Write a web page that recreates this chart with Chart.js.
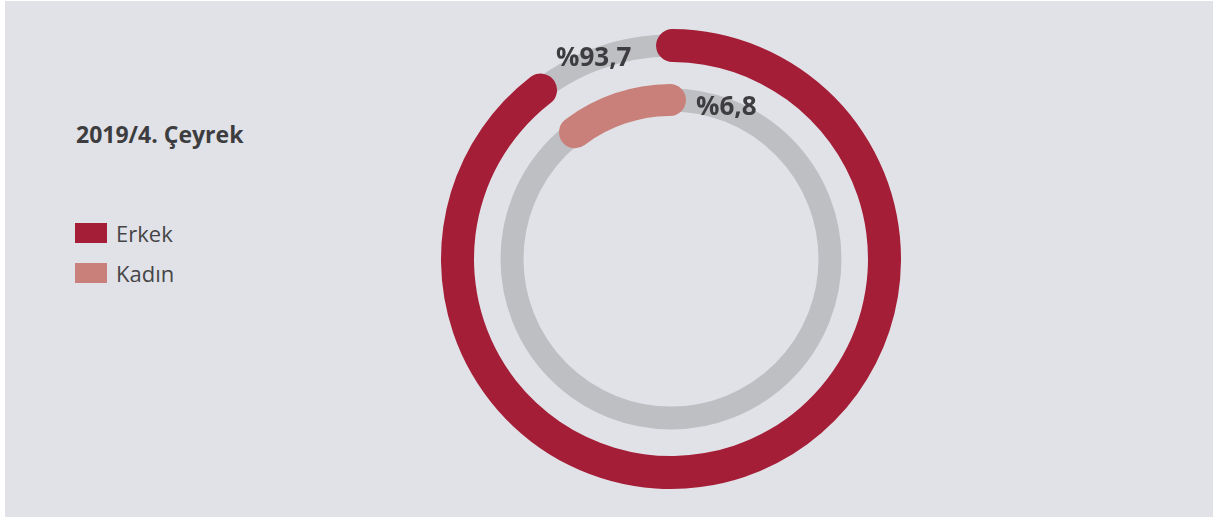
<!DOCTYPE html>
<html>
<head>
<meta charset="utf-8">
<script src="https://cdn.jsdelivr.net/npm/chart.js@4/dist/chart.umd.min.js"></script>
<style>
  html, body { margin: 0; padding: 0; background: #ffffff; }
  #stage { position: absolute; left: 5px; top: 1px; width: 1208px; height: 516px; background: #e1e2e7; }
  .txt { position: absolute; font-family: "Open Sans", sans-serif; line-height: 1; white-space: nowrap; color: #3d3d3f; }
  .title { font-weight: 700; font-size: 23px; }
  .lab { font-weight: 700; font-size: 26px; }
  .leg { font-size: 22px; color: #454547; }
  .box { position: absolute; width: 32px; height: 20px; }
  #wrap { position: absolute; width: 480px; height: 480px; }
</style>
</head>
<body>
<div id="stage"></div>
<div id="wrap"><canvas id="c" width="480" height="480"></canvas></div>
<script>
// ---- data ----
const categories = ["Erkek", "Kadın"];
const shares = [93.7, 6.8];                 // percent
const valueLabels = ["%93,7", "%6,8"];
const titleText = "2019/4. Çeyrek";
const colors = ["#a51e37", "#c9807a"];

// ---- layout (page coords) ----
const CX = 671, CY = 259;
const wrap = document.getElementById('wrap');
wrap.style.left = (CX - 240) + 'px';
wrap.style.top = (CY - 240) + 'px';

function addText(cls, text, left, top) {
  const d = document.createElement('div');
  d.className = 'txt ' + cls;
  d.textContent = text;
  d.style.left = left + 'px';
  d.style.top = top + 'px';
  document.body.appendChild(d);
  return d;
}
addText('title', titleText, 76, 123);
[[222, 223], [262, 263]].forEach((p, i) => {
  const b = document.createElement('div');
  b.className = 'box';
  b.style.left = '75px';
  b.style.top = p[1] + 'px';
  b.style.background = colors[i];
  document.body.appendChild(b);
  addText('leg', categories[i], 116, p[0]);
});
addText('lab', valueLabels[0], 556, 43);
addText('lab', valueLabels[1], 696, 92);

// track rings drawn under the coloured arcs
const trackPlugin = {
  id: 'tracks',
  beforeDatasetsDraw(chart) {
    const ctx = chart.ctx;
    [[0, 22], [2, 23]].forEach(([di, w]) => {
      const arc = chart.getDatasetMeta(di).data[0];
      if (!arc) return;
      const r = (arc.innerRadius + arc.outerRadius) / 2;
      ctx.save();
      ctx.beginPath();
      ctx.arc(arc.x, arc.y, r, 0, Math.PI * 2);
      ctx.lineWidth = w;
      ctx.strokeStyle = '#bebfc3';
      ctx.stroke();
      ctx.restore();
    });
  }
};

new Chart(document.getElementById('c'), {
  type: 'doughnut',
  data: {
    labels: ["value", "rest"],
    datasets: [
      { data: [shares[0], 100 - shares[0]], backgroundColor: [colors[0], 'rgba(0,0,0,0)'],
        weight: 33, rotation: -4, circumference: 353, borderRadius: 17, borderWidth: 0 },
      { data: [1], backgroundColor: ['rgba(0,0,0,0)'], weight: 22, borderWidth: 0 },
      { data: [shares[1], 100 - shares[1]], backgroundColor: [colors[1], 'rgba(0,0,0,0)'],
        weight: 32, rotation: -42.9, circumference: 710, borderRadius: 16, borderWidth: 0 }
    ]
  },
  options: {
    responsive: false,
    animation: false,
    events: [],
    radius: 230,
    cutout: '62.17%',
    layout: { padding: 0 },
    plugins: { legend: { display: false }, tooltip: { enabled: false } }
  },
  plugins: [trackPlugin]
});
</script>
</body>
</html>
